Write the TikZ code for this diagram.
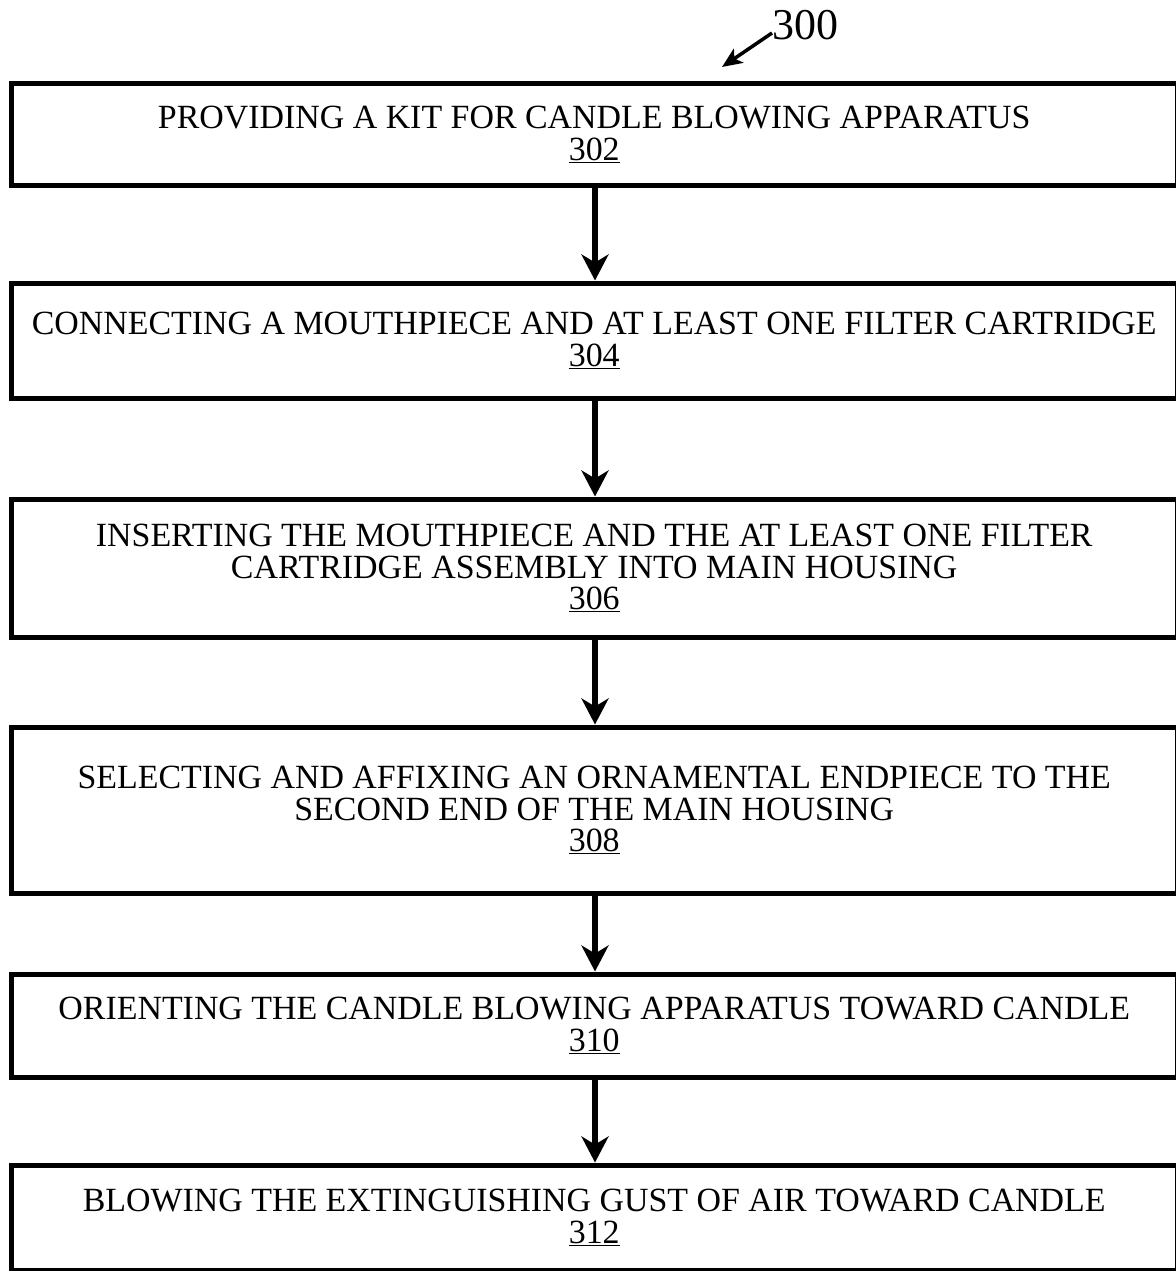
\documentclass[tikz,border=0pt]{standalone}
\usepackage{fontspec}
\setmainfont{Liberation Serif}
\usetikzlibrary{arrows.meta}
\begin{document}
\begin{tikzpicture}[x=1pt,y=-1pt,
 stepbox/.style={draw, line width=5pt, rectangle, minimum width=1165.5pt, inner sep=0pt, align=center, font=\fontsize{33.9}{31.5}\selectfont},
 flow/.style={line width=5.5pt, -{Stealth[length=26pt,width=27pt,inset=8pt]}},
 reflabel/.style={inner sep=0pt, font=\fontsize{44}{44}\selectfont}]
\useasboundingbox[fill=white] (0,0) rectangle (1175,1271);
\node[stepbox, minimum height=101pt] (b1) at (594.25,134.5) {PROVIDING A KIT FOR CANDLE BLOWING APPARATUS\\\underline{302}};
\node[stepbox, minimum height=115pt] (b2) at (594.25,340.5) {CONNECTING A MOUTHPIECE AND AT LEAST ONE FILTER CARTRIDGE\\\underline{304}};
\node[stepbox, minimum height=138pt] (b3) at (594.25,568) {INSERTING THE MOUTHPIECE AND THE AT LEAST ONE FILTER\\CARTRIDGE ASSEMBLY INTO MAIN HOUSING\\\underline{306}};
\node[stepbox, minimum height=166pt] (b4) at (594.25,810) {SELECTING AND AFFIXING AN ORNAMENTAL ENDPIECE TO THE\\SECOND END OF THE MAIN HOUSING\\\underline{308}};
\node[stepbox, minimum height=103pt] (b5) at (594.25,1025.5) {ORIENTING THE CANDLE BLOWING APPARATUS TOWARD CANDLE\\\underline{310}};
\node[stepbox, minimum height=105pt] (b6) at (594.25,1217.5) {BLOWING THE EXTINGUISHING GUST OF AIR TOWARD CANDLE\\\underline{312}};
\draw[flow] (b1.south -| 595,0) -- (b2.north -| 595,0);
\draw[flow] (b2.south -| 595,0) -- (b3.north -| 595,0);
\draw[flow] (b3.south -| 595,0) -- (b4.north -| 595,0);
\draw[flow] (b4.south -| 595,0) -- (b5.north -| 595,0);
\draw[flow] (b5.south -| 595,0) -- (b6.north -| 595,0);
\node[reflabel, anchor=base west] (lab) at (772,40) {300};
\coordinate (c300) at (772,33);
\coordinate (t300) at (722,67);
\draw[line width=3.5pt, -{Stealth[length=20pt,width=17pt,inset=5pt]}] (c300) -- (t300);
\end{tikzpicture}
\end{document}
